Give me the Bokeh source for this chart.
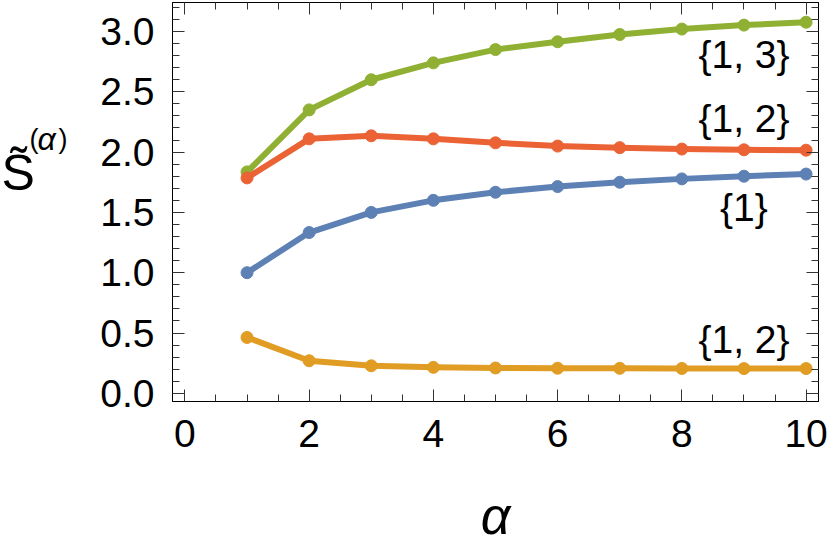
from bokeh.plotting import figure
from bokeh.layouts import row
from bokeh.models import Range1d, FixedTicker, LinearAxis, Label, NumeralTickFormatter
from bokeh.core.properties import value
from bokeh.embed import file_html
from bokeh.resources import INLINE

# ---- data ----
alpha = [1, 2, 3, 4, 5, 6, 7, 8, 9, 10]
s_1 = [1.0, 1.333, 1.5, 1.6, 1.667, 1.714, 1.75, 1.778, 1.8, 1.818]               # blue {1}
s_12_low = [0.463, 0.27, 0.228, 0.215, 0.21, 0.208, 0.207, 0.206, 0.205, 0.205]    # orange {1,2}
s_13 = [1.836, 2.35, 2.60, 2.74, 2.85, 2.915, 2.975, 3.02, 3.053, 3.077]           # green {1,3}
s_12_up = [1.786, 2.11, 2.135, 2.11, 2.077, 2.05, 2.037, 2.025, 2.019, 2.016]       # red {1,2}

x_ticks = [0, 2, 4, 6, 8, 10]
y_ticks = [0.0, 0.5, 1.0, 1.5, 2.0, 2.5, 3.0]

curve_labels = ["{1, 3}", "{1, 2}", "{1}", "{1, 2}"]
label_x = [9, 9, 9, 9]
label_y = [2.81, 2.275, 1.537, 0.445]

colors = ["#5E81B5", "#E19C24", "#8FB032", "#EB6235"]
series = [s_1, s_12_low, s_13, s_12_up]

FONT = "Liberation Sans"
TOTAL_H = 541
LAB_W = 95

p = figure(frame_width=646, frame_height=399,
           x_range=Range1d(-0.2, 10.2), y_range=Range1d(-0.068, 3.2405),
           output_backend="svg", toolbar_location=None,
           min_border_left=172 - LAB_W, min_border_right=10,
           min_border_top=2, min_border_bottom=TOTAL_H - 2 - 399)
p.xgrid.visible = False
p.ygrid.visible = False
p.outline_line_color = "black"
p.background_fill_color = "white"
p.border_fill_color = "white"

x_minor = [i * 0.5 for i in range(0, 21) if i % 4 != 0]
y_minor = [round(i * 0.1, 1) for i in range(0, 33) if i % 5 != 0]
xt = FixedTicker(ticks=x_ticks, minor_ticks=x_minor)
yt = FixedTicker(ticks=y_ticks, minor_ticks=y_minor)


def style(ax, labels):
    ax.axis_line_color = "black"
    ax.axis_line_width = 1
    ax.major_tick_in = 12
    ax.major_tick_out = 0
    ax.minor_tick_in = 7
    ax.minor_tick_out = 0
    ax.major_tick_line_color = "#333333"
    ax.minor_tick_line_color = "#333333"
    ax.major_label_text_font = FONT
    ax.major_label_text_color = "black"
    if labels:
        ax.major_label_text_font_size = "39px"
    else:
        ax.major_label_text_font_size = "1px"
        ax.major_label_text_color = None
        ax.major_label_standoff = 0


xb = p.below[0]
yl = p.left[0]
xb.ticker = xt
yl.ticker = yt
yl.formatter = NumeralTickFormatter(format="0.0")
style(xb, True)
style(yl, True)
xb.major_label_standoff = 18
yl.major_label_standoff = 18
xb.axis_label = "α"
xb.axis_label_text_font = FONT
xb.axis_label_text_font_style = "italic"
xb.axis_label_text_font_size = "52px"
xb.axis_label_text_color = "black"
xb.axis_label_standoff = 37

xa = LinearAxis(ticker=xt)
style(xa, False)
p.add_layout(xa, "above")
yr = LinearAxis(ticker=yt)
style(yr, False)
p.add_layout(yr, "right")

for ys, c in zip(series, colors):
    p.line(alpha, ys, line_color=c, line_width=6, line_join="round", line_cap="round")
    p.scatter(alpha, ys, size=12, fill_color=c, line_color=c)

for t, lx, ly in zip(curve_labels, label_x, label_y):
    p.add_layout(Label(x=lx, y=ly, text=t, text_align="center", text_baseline="middle",
                       text_font=FONT, text_font_size="39px", text_color="black"))

# ---- y axis title  S~^(alpha), drawn in a narrow side panel (pixel coordinates) ----
lab = figure(width=LAB_W, height=TOTAL_H, x_range=Range1d(0, LAB_W), y_range=Range1d(TOTAL_H, 0),
             output_backend="svg", toolbar_location=None, x_axis_location=None,
             y_axis_location=None, min_border=0, outline_line_color=None)
lab.xgrid.visible = False
lab.ygrid.visible = False
lab.text(x=[1], y=[235], text=["S\u0303"], text_align="left", text_baseline="alphabetic",
         text_font=value(FONT), text_font_size="50px", text_color="black")
lab.text(x=[29, 58], y=[188, 188], text=["(", ")"], text_align="left",
         text_baseline="alphabetic", text_font=value(FONT), text_font_size="27px",
         text_color="black")
lab.text(x=[37], y=[188], text=["α"], text_align="left", text_baseline="alphabetic",
         text_font=value(FONT), text_font_style="italic", text_font_size="32px",
         text_color="black")

layout = row(lab, p)
open("out.html", "w").write(file_html(layout, INLINE))
